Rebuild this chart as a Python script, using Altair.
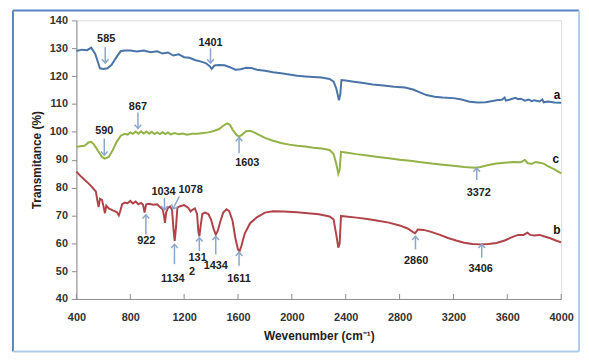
import altair as alt
import pandas as pd

# ---------------- data ----------------
a_wn = [400, 440, 480, 510, 540, 560, 575, 600, 630, 660, 700, 730, 760, 800, 850, 900, 950, 1000, 1040, 1080,
        1120, 1160, 1200, 1240, 1280, 1320, 1360, 1390, 1405, 1425, 1460, 1500, 1540, 1580, 1620, 1660,
        1700, 1740, 1800, 1860, 1920, 1980, 2040, 2100, 2160, 2220, 2280, 2310, 2330, 2350, 2360, 2368,
        2400, 2460, 2520, 2600, 2680, 2760, 2840, 2900, 2960, 3000, 3060, 3120, 3200, 3260, 3320, 3380,
        3440, 3480, 3520, 3560, 3580, 3590, 3620, 3660, 3680, 3700, 3730, 3760, 3780, 3800, 3840, 3860,
        3870, 3900, 3950, 4000]
a_val = [129.0, 129.5, 129.3, 130.2, 128.0, 125.0, 122.8, 122.6, 122.8, 124.0, 127.0, 129.0, 129.2, 129.2,
         128.8, 129.2, 128.6, 128.9, 128.1, 128.5, 127.4, 127.8, 126.8, 126.6, 125.8, 125.3, 124.7, 123.6,
         122.6, 123.8, 124.0, 123.9, 123.2, 122.3, 122.5, 123.0, 122.9, 122.3, 121.9, 121.4, 121.0, 120.6,
         120.1, 119.9, 119.7, 119.5, 119.0, 118.0, 115.5, 111.3, 113.5, 118.6, 118.4, 118.0, 117.6, 117.0,
         116.6, 116.2, 115.9, 115.2, 114.0, 113.2, 112.6, 112.3, 112.1, 111.6, 110.8, 110.5, 110.6, 111.0,
         111.3, 111.5, 112.3, 111.2, 111.6, 112.2, 111.7, 111.9, 111.2, 111.6, 111.0, 111.3, 110.9, 111.6,
         110.6, 110.9, 110.5, 110.4]

c_wn = [400, 430, 460, 490, 510, 530, 560, 590, 610, 640, 670, 700, 730, 760, 780, 800, 820, 840, 860, 880,
        900, 920, 940, 960, 980, 1000, 1020, 1040, 1060, 1080, 1100, 1130, 1160, 1190, 1220, 1260, 1300,
        1340, 1380, 1420, 1460, 1490, 1520, 1540, 1560, 1590, 1610, 1630, 1660, 1690, 1720, 1760, 1800,
        1860, 1920, 1980, 2040, 2100, 2160, 2220, 2280, 2310, 2330, 2345, 2355, 2365, 2400, 2480, 2560,
        2640, 2720, 2800, 2880, 2960, 3040, 3120, 3200, 3280, 3360, 3400, 3460, 3520, 3580, 3640, 3700,
        3730, 3750, 3780, 3810, 3840, 3870, 3900, 3940, 4000]
c_val = [94.6, 94.8, 95.0, 96.2, 96.4, 95.5, 93.2, 91.0, 90.4, 91.0, 93.5, 96.5, 98.6, 99.3, 99.0, 99.8,
         99.3, 100.1, 99.3, 100.2, 99.4, 100.1, 99.3, 100.0, 99.2, 99.8, 99.2, 99.9, 99.2, 99.8, 99.1, 99.6,
         99.1, 99.4, 99.0, 99.3, 99.3, 99.6, 99.8, 100.3, 101.0, 102.2, 103.0, 102.5, 100.8, 98.8, 98.3,
         99.0, 100.2, 100.4, 99.8, 98.8, 97.8, 96.8, 96.0, 95.4, 95.0, 94.7, 94.3, 94.0, 93.5, 92.0, 88.5,
         85.0, 86.5, 92.8, 92.6, 92.0, 91.5, 91.0, 90.5, 90.0, 89.6, 89.1, 88.6, 88.2, 87.8, 87.4, 87.1,
         87.4, 88.1, 88.6, 88.9, 89.2, 89.1, 89.9, 88.8, 88.5, 89.2, 88.9, 88.6, 87.7, 86.8, 85.1]

b_wn = [400, 430, 460, 490, 520, 545, 555, 565, 575, 590, 600, 612, 622, 640, 670, 700, 715, 725, 740, 760,
        780, 800, 820, 840, 860, 880, 895, 906, 918, 940, 970, 1000, 1020, 1040, 1050, 1058, 1066, 1080,
        1095, 1110, 1122, 1130, 1140, 1150, 1170, 1200, 1230, 1248, 1262, 1280, 1296, 1306, 1313, 1322,
        1335, 1355, 1380, 1400, 1420, 1435, 1450, 1470, 1490, 1515, 1535, 1560, 1580, 1600, 1612, 1625,
        1650, 1690, 1740, 1800, 1860, 1940, 2040, 2120, 2200, 2280, 2310, 2330, 2345, 2355, 2365, 2400,
        2480, 2560, 2640, 2720, 2800, 2860, 2900, 2915, 2935, 2980, 3040, 3100, 3160, 3220, 3280, 3340,
        3400, 3460, 3520, 3580, 3640, 3680, 3720, 3750, 3770, 3800, 3840, 3870, 3920, 3960, 4000]
b_val = [85.7, 84.2, 82.8, 81.5, 80.0, 78.5, 75.5, 73.0, 76.0, 75.6, 73.5, 70.8, 73.5, 72.5, 71.8, 71.2,
         70.0, 71.5, 74.0, 74.6, 74.4, 75.2, 74.3, 75.0, 74.0, 74.5, 73.8, 71.0, 74.0, 74.2, 73.8, 74.0,
         73.0, 72.2, 70.0, 67.3, 71.0, 72.7, 73.2, 72.0, 64.5, 60.8, 66.0, 72.8, 73.3, 73.7, 72.8, 71.4,
         72.0, 72.5, 70.5, 64.0, 62.5, 66.0, 70.5, 71.0, 70.5, 68.5, 65.0, 63.1, 64.5, 68.0, 71.0, 72.2,
         71.5, 68.0, 62.0, 57.8, 57.2, 59.0, 63.5, 67.2, 69.3, 71.0, 71.5, 71.4, 71.1, 70.8, 70.4, 69.6,
         68.5, 63.0, 58.4, 60.0, 69.8, 69.6, 69.2, 68.7, 68.1, 67.4, 66.4, 65.3, 64.0, 63.6, 64.9, 64.8,
         64.0, 63.0, 61.9, 61.0, 60.2, 59.7, 59.6, 59.7, 60.1, 61.0, 62.3, 63.0, 63.0, 63.8, 63.0, 62.8,
         63.0, 62.5, 61.8, 61.0, 60.3]

# arrows: tail (x, y) -> tip (x2, y2)
arr_x = [614, 1396, 857, 607, 1608, 3373, 916, 1054, 1165, 1128, 1313, 1435, 1608, 2918, 3410]
arr_y = [130.4, 130.0, 106.9, 97.6, 92.3, 82.7, 63.1, 76.3, 76.8, 52.5, 57.2, 56.0, 51.9, 57.8, 54.8]
arr_x2 = [614, 1396, 857, 607, 1608, 3373, 916, 1054, 1116, 1128, 1313, 1435, 1608, 2918, 3410]
arr_y2 = [124.7, 124.7, 101.2, 91.6, 98.0, 87.0, 70.2, 72.0, 72.3, 59.6, 62.0, 62.5, 56.8, 62.5, 59.6]
arr_angle = [180, 180, 180, 180, 0, 0, 0, 180, 208, 0, 0, 0, 0, 0, 0]

# peak labels
lab_text = ["585", "1401", "867", "590", "1603", "3372", "922", "1034", "1078", "1134", "131", "2",
            "1434", "1611", "2860", "3406"]
lab_x = [621, 1396, 857, 607, 1669, 3388, 919, 1047, 1248, 1116, 1300, 1258, 1435, 1608, 2923, 3402]
lab_y = [133.2, 131.8, 109.0, 100.3, 88.8, 78.0, 60.7, 78.5, 79.1, 47.1, 54.8, 49.5, 51.9, 47.1, 53.6, 50.7]

# series labels
ser_text = ["a", "c", "b"]
ser_x = [3970, 3961, 3968]
ser_y = [113.3, 90.2, 64.9]

x_ticks = [400, 800, 1200, 1600, 2000, 2400, 2800, 3200, 3600, 4000]
y_ticks = [40, 50, 60, 70, 80, 90, 100, 110, 120, 130, 140]

# ---------------- build ----------------
FONT = "Liberation Sans"
W, H = 489, 281

spec = pd.concat([
    pd.DataFrame({"wn": a_wn, "T": a_val, "s": "a"}),
    pd.DataFrame({"wn": c_wn, "T": c_val, "s": "c"}),
    pd.DataFrame({"wn": b_wn, "T": b_val, "s": "b"}),
], ignore_index=True)
spec["i"] = range(len(spec))

arrows = pd.DataFrame({"x": arr_x, "y": arr_y, "x2": arr_x2, "y2": arr_y2, "angle": arr_angle})
labels = pd.DataFrame({"x": lab_x, "y": lab_y, "t": lab_text})
sers = pd.DataFrame({"x": ser_x, "y": ser_y, "t": ser_text})
ticks = pd.DataFrame({"x": x_ticks})

xs = alt.Scale(domain=[400, 4000], nice=False, zero=False)
ys = alt.Scale(domain=[40, 140], nice=False, zero=False)

X_AXIS = alt.Axis(values=x_ticks, format="d", title="Wevenumber (cm\u207b\u00b9)", grid=False,
                  tickSize=0, labelPadding=13, titlePadding=8, labelFlush=False,
                  labelOverlap=False,
                  domainColor="#8c8c8c", labelColor="#333333", labelFontWeight="bold",
                  labelFontSize=11, titleFontSize=12, titleFontWeight="bold",
                  titleColor="#222222", labelFont=FONT, titleFont=FONT)
Y_AXIS = alt.Axis(values=y_ticks, format="d", title="Transmitance (%)", grid=False,
                  tickSize=5, tickColor="#8c8c8c", domainColor="#8c8c8c",
                  labelPadding=4, titlePadding=6, labelFlush=False, labelOverlap=False,
                  labelColor="#333333", labelFontWeight="bold", labelFontSize=11,
                  titleFontSize=12, titleFontWeight="bold", titleColor="#222222",
                  labelFont=FONT, titleFont=FONT)


def px(field):
    return alt.X(field, scale=xs, axis=X_AXIS)


def py(field):
    return alt.Y(field, scale=ys, axis=Y_AXIS)


lines = alt.Chart(spec).mark_line(strokeWidth=2).encode(
    x=px("wn:Q"), y=py("T:Q"),
    color=alt.Color("s:N", scale=alt.Scale(domain=["a", "c", "b"],
                                          range=["#4a73a8", "#93b247", "#b0434a"]), legend=None),
    order="i:Q",
)

xticks = alt.Chart(ticks).mark_rule(color="#8c8c8c", strokeWidth=1).encode(
    x=px("x:Q"), y=alt.value(H), y2=alt.value(H - 5))

arrow_shafts = alt.Chart(arrows).mark_rule(color="#8aa6cc", strokeWidth=1.5).encode(
    x=px("x:Q"), y=py("y:Q"), x2="x2:Q", y2="y2:Q")

arrow_heads = alt.Chart(arrows).mark_point(
    shape="M -0.8 0.9 L 0 0 L 0.8 0.9", filled=False, color="#8aa6cc", strokeWidth=1.5,
    size=70, opacity=1).encode(
    x=px("x2:Q"), y=py("y2:Q"), angle=alt.Angle("angle:Q", scale=None))

peak_text = alt.Chart(labels).mark_text(font=FONT, fontSize=11, fontWeight="bold",
                                        color="#222222").encode(
    x=px("x:Q"), y=py("y:Q"), text="t:N")

ser_lab = alt.Chart(sers).mark_text(font=FONT, fontSize=12, fontWeight="bold",
                                    color="#111111").encode(
    x=px("x:Q"), y=py("y:Q"), text="t:N")

# figure frame
frame_df = pd.DataFrame({"k": [0]})
fl = alt.Chart(frame_df).mark_rule(color="#5a84c2", strokeWidth=2, clip=False).encode(
    x=alt.value(-64), x2=alt.value(-64), y=alt.value(-10), y2=alt.value(334))
ft = alt.Chart(frame_df).mark_rule(color="#5a84c2", strokeWidth=2, clip=False).encode(
    x=alt.value(-64), x2=alt.value(507), y=alt.value(-10), y2=alt.value(-10))
fr = alt.Chart(frame_df).mark_rule(color="#b3cbea", strokeWidth=2, clip=False).encode(
    x=alt.value(507), x2=alt.value(507), y=alt.value(-10), y2=alt.value(334))
fb = alt.Chart(frame_df).mark_rule(color="#b3cbea", strokeWidth=2, clip=False).encode(
    x=alt.value(-64), x2=alt.value(507), y=alt.value(334), y2=alt.value(334))

chart = alt.layer(lines, xticks, arrow_shafts, arrow_heads, peak_text, ser_lab, fl, ft, fr, fb).properties(
    width=W, height=H,
    autosize=alt.AutoSizeParams(type="none"),
    padding={"left": 69, "top": 11, "right": 20, "bottom": 54},
).configure_view(stroke=None).configure(background="white")

chart.save("out.html", embed_options={"renderer": "svg", "actions": False})
